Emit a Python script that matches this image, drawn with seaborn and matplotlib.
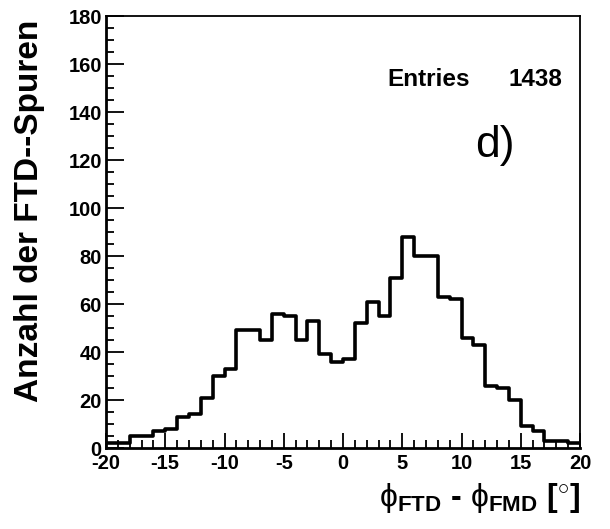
import numpy as np
import matplotlib
matplotlib.use("Agg")
import matplotlib.pyplot as plt
import seaborn as sns
from matplotlib.ticker import MultipleLocator

# bin edges -20..20, width 1 degree
bin_edges = list(range(-20, 21))
bin_centers = [e + 0.5 for e in range(-20, 20)]
counts = [2, 2, 5, 5, 7, 8, 13, 14, 21, 30,
          33, 49, 49, 45, 56, 55, 45, 53, 39, 36,
          37, 52, 61, 55, 71, 88, 80, 80, 63, 62,
          46, 43, 26, 25, 20, 9, 7, 3, 3, 2]
y_ticks = list(range(0, 181, 20))
x_ticks = list(range(-20, 21, 5))

sns.set_style("ticks", {"axes.edgecolor": "black", "text.color": "black",
                        "axes.labelcolor": "black", "xtick.color": "black",
                        "ytick.color": "black"})
plt.rcParams["font.family"] = ["Liberation Sans", "DejaVu Sans"]
plt.rcParams["axes.unicode_minus"] = False
plt.rcParams["mathtext.fontset"] = "custom"
plt.rcParams["mathtext.rm"] = "Liberation Sans"
plt.rcParams["mathtext.bf"] = "Liberation Sans:bold"
plt.rcParams["mathtext.it"] = "Liberation Sans:italic"

fig = plt.figure(figsize=(6.10, 5.29), dpi=100)
ax = fig.add_axes([106 / 610, 81 / 529, 474 / 610, 432 / 529])

sns.histplot(x=bin_centers, weights=counts, bins=bin_edges, element="step",
             fill=False, color="black", linewidth=2.6, ax=ax)

ax.set_xlim(-20, 20)
ax.set_ylim(0, 180)
ax.set_xticks(x_ticks)
ax.set_yticks(y_ticks)
ax.xaxis.set_minor_locator(MultipleLocator(1))
ax.yaxis.set_minor_locator(MultipleLocator(5))
ax.tick_params(axis="both", which="major", direction="in", width=1.3,
               labelsize=14.5, pad=3, colors="black")
ax.tick_params(axis="x", which="major", length=11, pad=4)
ax.tick_params(axis="y", which="major", length=13)
ax.tick_params(axis="both", which="minor", direction="in", width=1.3, length=6,
               colors="black")
ax.tick_params(top=False, right=False, which="both")
for lab in ax.get_xticklabels() + ax.get_yticklabels():
    lab.set_fontweight("bold")
for side in ["left", "bottom", "right", "top"]:
    ax.spines[side].set_visible(True)
    ax.spines[side].set_linewidth(1.3)
    ax.spines[side].set_color("black")
ax.spines["left"].set_linewidth(2)
ax.spines["bottom"].set_linewidth(2)

ax.set_ylabel("Anzahl der FTD--Spuren", fontsize=24, fontweight="bold",
              color="black")
ax.yaxis.set_label_coords(-0.128, 0.55)
ax.set_xlabel(r"$\mathrm{\phi}_{\mathbf{FTD}}$ - $\mathrm{\phi}_{\mathbf{FMD}}$ [$\mathrm{^{\circ}}$]",
              fontsize=23, fontweight="bold", ha="right", color="black")
ax.xaxis.set_label_coords(1.0, -0.076)

ax.text(0.593, 0.852, "Entries", transform=ax.transAxes, fontsize=17.5,
        fontweight="bold", va="center", color="black")
ax.text(0.962, 0.852, "1438", transform=ax.transAxes, fontsize=17.5,
        fontweight="bold", va="center", ha="right", color="black")
ax.text(0.778, 0.70, "d)", transform=ax.transAxes, fontsize=32, va="center",
        color="black")

fig.savefig("out.png", dpi=100)
